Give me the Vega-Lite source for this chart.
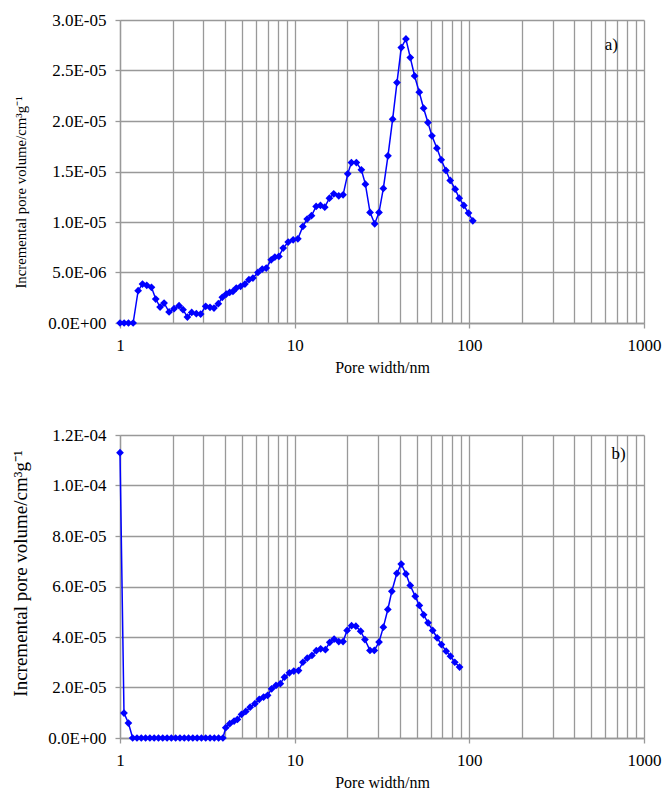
{
  "$schema": "https://vega.github.io/schema/vega-lite/v6.json",
  "padding": {"left": 11, "top": 11, "right": 1, "bottom": 5},
  "background": "white",
  "spacing": 51,
  "config": {
    "font": "Liberation Serif, Times New Roman, serif",
    "view": {"stroke": null},
    "text": {"font": "Liberation Serif, Times New Roman, serif"},
    "axis": {
      "domainColor": "#999999", "tickColor": "#999999", "gridColor": "#999999",
      "gridWidth": 1.3, "domainWidth": 1.3, "tickWidth": 1.3,
      "labelColor": "#000000", "titleColor": "#000000",
      "labelFont": "Liberation Serif, Times New Roman, serif", "titleFont": "Liberation Serif, Times New Roman, serif",
      "labelFontSize": 17, "titleFontSize": 16, "titleFontWeight": "normal",
      "tickSize": 5, "labelFlush": false, "labelOverlap": false
    }
  },
  "datasets": {
    "a": [
      {"w": 1.0, "v": 0}, {"w": 1.056, "v": 0}, {"w": 1.118, "v": 0}, {"w": 1.189, "v": 0},
      {"w": 1.27, "v": 3.2e-6}, {"w": 1.345, "v": 3.86e-6}, {"w": 1.423, "v": 3.73e-6}, {"w": 1.514, "v": 3.53e-6},
      {"w": 1.602, "v": 2.37e-6}, {"w": 1.696, "v": 1.58e-6}, {"w": 1.788, "v": 1.98e-6}, {"w": 1.91, "v": 1.09e-6},
      {"w": 2.04, "v": 1.42e-6}, {"w": 2.178, "v": 1.71e-6}, {"w": 2.296, "v": 1.32e-6}, {"w": 2.431, "v": 0.59e-6},
      {"w": 2.573, "v": 1.05e-6}, {"w": 2.736, "v": 0.92e-6}, {"w": 2.896, "v": 0.89e-6}, {"w": 3.094, "v": 1.65e-6},
      {"w": 3.275, "v": 1.55e-6}, {"w": 3.452, "v": 1.48e-6}, {"w": 3.655, "v": 1.91e-6}, {"w": 3.852, "v": 2.54e-6},
      {"w": 4.061, "v": 2.87e-6}, {"w": 4.243, "v": 3.03e-6}, {"w": 4.433, "v": 3.13e-6}, {"w": 4.632, "v": 3.46e-6},
      {"w": 4.904, "v": 3.63e-6}, {"w": 5.191, "v": 3.86e-6}, {"w": 5.472, "v": 4.29e-6}, {"w": 5.768, "v": 4.45e-6},
      {"w": 6.16, "v": 5.01e-6}, {"w": 6.521, "v": 5.34e-6}, {"w": 6.874, "v": 5.44e-6}, {"w": 7.339, "v": 6.26e-6},
      {"w": 7.703, "v": 6.53e-6}, {"w": 8.12, "v": 6.59e-6}, {"w": 8.597, "v": 7.42e-6}, {"w": 9.181, "v": 8.01e-6},
      {"w": 9.804, "v": 8.24e-6}, {"w": 10.43, "v": 8.34e-6}, {"w": 11.14, "v": 9.56e-6}, {"w": 11.79, "v": 1.029e-5},
      {"w": 12.48, "v": 1.062e-5}, {"w": 13.27, "v": 1.154e-5}, {"w": 14.05, "v": 1.164e-5}, {"w": 14.87, "v": 1.147e-5},
      {"w": 15.81, "v": 1.236e-5}, {"w": 16.74, "v": 1.279e-5}, {"w": 17.88, "v": 1.259e-5}, {"w": 18.93, "v": 1.269e-5},
      {"w": 20.13, "v": 1.477e-5}, {"w": 21.13, "v": 1.589e-5}, {"w": 22.56, "v": 1.589e-5}, {"w": 24.09, "v": 1.517e-5},
      {"w": 25.4, "v": 1.375e-5}, {"w": 27.01, "v": 1.095e-5}, {"w": 28.72, "v": 9.82e-6}, {"w": 30.4, "v": 1.095e-5},
      {"w": 32.19, "v": 1.332e-5}, {"w": 34.21, "v": 1.655e-5}, {"w": 36.39, "v": 2.018e-5}, {"w": 38.52, "v": 2.38e-5},
      {"w": 40.78, "v": 2.727e-5}, {"w": 43.36, "v": 2.812e-5}, {"w": 45.91, "v": 2.628e-5}, {"w": 48.61, "v": 2.446e-5},
      {"w": 51.68, "v": 2.285e-5}, {"w": 54.72, "v": 2.127e-5}, {"w": 57.94, "v": 1.985e-5}, {"w": 61.07, "v": 1.853e-5},
      {"w": 65.22, "v": 1.731e-5}, {"w": 69.05, "v": 1.616e-5}, {"w": 73.42, "v": 1.51e-5}, {"w": 77.73, "v": 1.411e-5},
      {"w": 82.99, "v": 1.325e-5}, {"w": 87.49, "v": 1.236e-5}, {"w": 93.02, "v": 1.164e-5}, {"w": 98.9, "v": 1.088e-5},
      {"w": 104.7, "v": 1.012e-5}
    ],
    "b": [
      {"w": 1.0, "v": 1.13e-4}, {"w": 1.054, "v": 9.88e-6}, {"w": 1.117, "v": 5.93e-6},
      {"w": 1.182, "v": 0}, {"w": 1.251, "v": 0}, {"w": 1.324, "v": 0}, {"w": 1.401, "v": 0},
      {"w": 1.483, "v": 0}, {"w": 1.569, "v": 0}, {"w": 1.661, "v": 0}, {"w": 1.757, "v": 0},
      {"w": 1.86, "v": 0}, {"w": 1.968, "v": 0}, {"w": 2.083, "v": 0}, {"w": 2.204, "v": 0},
      {"w": 2.333, "v": 0}, {"w": 2.469, "v": 0}, {"w": 2.612, "v": 0}, {"w": 2.765, "v": 0},
      {"w": 2.926, "v": 0}, {"w": 3.096, "v": 0}, {"w": 3.277, "v": 0}, {"w": 3.467, "v": 0},
      {"w": 3.669, "v": 0}, {"w": 3.883, "v": 0},
      {"w": 4.03, "v": 4.08e-6}, {"w": 4.25, "v": 5.66e-6}, {"w": 4.5, "v": 6.72e-6}, {"w": 4.7, "v": 7.37e-6},
      {"w": 4.96, "v": 9.35e-6}, {"w": 5.25, "v": 1.05e-5}, {"w": 5.56, "v": 1.22e-5}, {"w": 5.92, "v": 1.36e-5},
      {"w": 6.27, "v": 1.53e-5}, {"w": 6.64, "v": 1.62e-5}, {"w": 7.0, "v": 1.69e-5}, {"w": 7.38, "v": 1.95e-5},
      {"w": 7.82, "v": 2.08e-5}, {"w": 8.28, "v": 2.15e-5}, {"w": 8.74, "v": 2.41e-5}, {"w": 9.33, "v": 2.58e-5},
      {"w": 9.89, "v": 2.65e-5}, {"w": 10.52, "v": 2.67e-5}, {"w": 11.14, "v": 3.0e-5}, {"w": 11.8, "v": 3.16e-5},
      {"w": 12.56, "v": 3.27e-5}, {"w": 13.3, "v": 3.46e-5}, {"w": 14.09, "v": 3.53e-5}, {"w": 14.99, "v": 3.5e-5},
      {"w": 15.88, "v": 3.79e-5}, {"w": 16.82, "v": 3.92e-5}, {"w": 17.88, "v": 3.82e-5}, {"w": 18.93, "v": 3.82e-5},
      {"w": 19.96, "v": 4.26e-5}, {"w": 21.17, "v": 4.45e-5}, {"w": 22.41, "v": 4.43e-5}, {"w": 23.86, "v": 4.23e-5},
      {"w": 25.25, "v": 3.9e-5}, {"w": 26.98, "v": 3.47e-5}, {"w": 28.57, "v": 3.47e-5}, {"w": 30.41, "v": 3.8e-5},
      {"w": 32.19, "v": 4.39e-5}, {"w": 34.15, "v": 5.09e-5}, {"w": 35.99, "v": 5.81e-5}, {"w": 38.46, "v": 6.52e-5},
      {"w": 40.74, "v": 6.89e-5}, {"w": 43.35, "v": 6.5e-5}, {"w": 45.89, "v": 6.04e-5}, {"w": 49.03, "v": 5.61e-5},
      {"w": 51.74, "v": 5.25e-5}, {"w": 54.75, "v": 4.88e-5}, {"w": 58.02, "v": 4.56e-5}, {"w": 61.7, "v": 4.26e-5},
      {"w": 65.4, "v": 3.97e-5}, {"w": 69.24, "v": 3.7e-5}, {"w": 73.65, "v": 3.44e-5}, {"w": 77.96, "v": 3.24e-5},
      {"w": 82.56, "v": 3.0e-5}, {"w": 87.92, "v": 2.81e-5}
    ]
  },
  "vconcat": [
    {
      "width": 524, "height": 303,
      "layer": [
        {
          "data": {"name": "a"},
          "mark": {"type": "line", "color": "#0000FF", "strokeWidth": 1.5, "point": {"shape": "diamond", "size": 60, "filled": true, "color": "#0000FF"}},
          "encoding": {
            "x": {"field": "w", "type": "quantitative", "title": "Pore width/nm",
              "scale": {"type": "log", "domain": [1, 1000], "nice": false},
              "axis": {"values": [1,2,3,4,5,6,7,8,9,10,20,30,40,50,60,70,80,90,100,200,300,400,500,600,700,800,900,1000],
                "grid": true, "format": "d",
                "labelExpr": "indexof([1,10,100,1000], datum.value) >= 0 ? datum.label : ''",
                "tickOpacity": {"condition": {"test": "indexof([1,10,100,1000], datum.value) >= 0", "value": 1}, "value": 0},
                "labelPadding": 9, "titlePadding": 6}},
            "y": {"field": "v", "type": "quantitative", "title": "Incremental pore volume/cm³g⁻¹",
              "scale": {"domain": [0, 3e-5], "nice": false},
              "axis": {"values": [0, 5e-6, 1e-5, 1.5e-5, 2e-5, 2.5e-5, 3e-5], "grid": true,
                "labelExpr": "replace(replace(format(datum.value, '.1e'), 'e-', 'E-0'), 'e+', 'E+0')",
                "labelPadding": 9, "titlePadding": 19, "titleFontSize": 14.8, "titleY": 172}}
          }
        },
        {
          "data": {"values": [{"w": 650, "v": 2.75e-5, "t": "a)"}]},
          "mark": {"type": "text", "fontSize": 17, "color": "#000000"},
          "encoding": {
            "x": {"field": "w", "type": "quantitative"},
            "y": {"field": "v", "type": "quantitative"},
            "text": {"field": "t"}
          }
        }
      ]
    },
    {
      "width": 524, "height": 303,
      "layer": [
        {
          "data": {"name": "b"},
          "mark": {"type": "line", "color": "#0000FF", "strokeWidth": 1.5, "point": {"shape": "diamond", "size": 60, "filled": true, "color": "#0000FF"}},
          "encoding": {
            "x": {"field": "w", "type": "quantitative", "title": "Pore width/nm",
              "scale": {"type": "log", "domain": [1, 1000], "nice": false},
              "axis": {"values": [1,2,3,4,5,6,7,8,9,10,20,30,40,50,60,70,80,90,100,200,300,400,500,600,700,800,900,1000],
                "grid": true, "format": "d",
                "labelExpr": "indexof([1,10,100,1000], datum.value) >= 0 ? datum.label : ''",
                "tickOpacity": {"condition": {"test": "indexof([1,10,100,1000], datum.value) >= 0", "value": 1}, "value": 0},
                "labelPadding": 9, "titlePadding": 6}},
            "y": {"field": "v", "type": "quantitative", "title": "Incremental pore volume/cm³g⁻¹",
              "scale": {"domain": [0, 1.2e-4], "nice": false},
              "axis": {"values": [0, 2e-5, 4e-5, 6e-5, 8e-5, 1e-4, 1.2e-4], "grid": true,
                "labelExpr": "replace(replace(format(datum.value, '.1e'), 'e-', 'E-0'), 'e+', 'E+0')",
                "labelPadding": 9, "titlePadding": 17, "titleFontSize": 19, "titleY": 138}}
          }
        },
        {
          "data": {"values": [{"w": 716, "v": 1.125e-4, "t": "b)"}]},
          "mark": {"type": "text", "fontSize": 17, "color": "#000000"},
          "encoding": {
            "x": {"field": "w", "type": "quantitative"},
            "y": {"field": "v", "type": "quantitative"},
            "text": {"field": "t"}
          }
        }
      ]
    }
  ]
}
